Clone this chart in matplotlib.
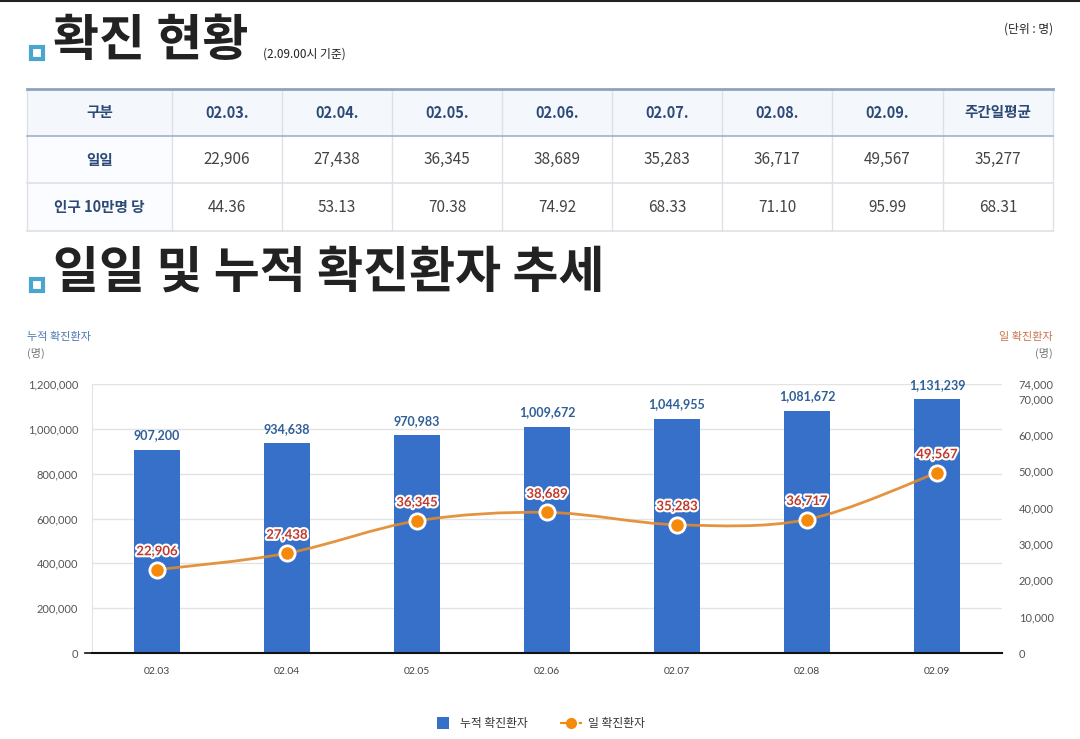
import numpy as np
import matplotlib.pyplot as plt
from matplotlib.path import Path
from matplotlib.patches import PathPatch, Rectangle
import matplotlib.patheffects as pe

plt.rcParams['font.family'] = ['Noto Sans CJK KR', 'DejaVu Sans']

# ---- data ----
dates = ['02.03', '02.04', '02.05', '02.06', '02.07', '02.08', '02.09']
daily = [22906, 27438, 36345, 38689, 35283, 36717, 49567]
per100k = [44.36, 53.13, 70.38, 74.92, 68.33, 71.10, 95.99]
cumulative = [907200, 934638, 970983, 1009672, 1044955, 1081672, 1131239]
weekly_avg_daily = 35277
weekly_avg_per100k = 68.31

header_labels = ['구분'] + [d + '.' for d in dates] + ['주간일평균']
row_labels = ['일일', '인구 10만명 당']

W, H = 1080, 739
fig = plt.figure(figsize=(W / 100, H / 100), dpi=100)

# full-figure overlay in pixel coordinates for the page layout
page = fig.add_axes([0, 0, 1, 1])
page.set_xlim(0, W)
page.set_ylim(H, 0)
page.axis('off')

NAVY = '#2d4a76'
GRAY = '#444444'

# top rule
page.plot([0, W], [1, 1], color='#222222', lw=1.5)


def section_icon(y):
    page.add_patch(Rectangle((31, y), 12, 12, facecolor='white',
                             edgecolor='#4ba6cf', lw=3))


# section 1 title
section_icon(47)
page.text(53, 42, '확진 현황', fontsize=36, fontweight='bold',
          color='#222222', va='center', ha='left')
page.text(263, 54, '(2.09.00시 기준)', fontsize=8.5, color='#222222',
          va='center', ha='left')
page.text(1053, 29, '(단위 : 명)', fontsize=8.5, color='#222222',
          va='center', ha='right')

# table
col_edges = [27, 172, 282, 392, 502, 612, 722, 832, 943, 1053]
row_edges = [89, 136, 183, 231]
page.add_patch(Rectangle((27, 89), 1026, 47, facecolor='#f4f8fd',
                         edgecolor='none'))
page.add_patch(Rectangle((27, 136), 145, 95, facecolor='#fafcff',
                         edgecolor='none'))
for x in col_edges:
    page.plot([x, x], [89, 231], color='#dde1e6', lw=1)
for y in row_edges[1:]:
    c = '#9fb1c9' if y == 136 else '#dde1e6'
    page.plot([27, 1053], [y, y], color=c, lw=1.2)
page.plot([27, 1053], [89, 89], color='#8fa2bf', lw=2)

rows = [header_labels,
        [row_labels[0]] + [f'{v:,}' for v in daily] + [f'{weekly_avg_daily:,}'],
        [row_labels[1]] + [f'{v:.2f}' for v in per100k] + [f'{weekly_avg_per100k:.2f}']]
for r, vals in enumerate(rows):
    yc = (row_edges[r] + row_edges[r + 1]) / 2
    for c, txt in enumerate(vals):
        xc = (col_edges[c] + col_edges[c + 1]) / 2
        bold = r == 0 or c == 0
        page.text(xc, yc, txt, ha='center', va='center',
                  fontsize=10.5 if bold else 11,
                  fontweight='bold' if bold else 'normal',
                  color=NAVY if bold else GRAY)

# section 2 title
section_icon(279)
page.text(53, 273, '일일 및 누적 확진환자 추세', fontsize=36, fontweight='bold',
          color='#222222', va='center', ha='left')

# axis titles
page.text(27, 337, '누적 확진환자', fontsize=8, color='#4a78b0',
          va='center', ha='left')
page.text(27, 353, '(명)', fontsize=8, color='#777777', va='center', ha='left')
page.text(1053, 337, '일 확진환자', fontsize=8, color='#c8734a',
          va='center', ha='right')
page.text(1053, 353, '(명)', fontsize=8, color='#777777', va='center',
          ha='right')

# ---- chart ----
x0, x1, ytop, ybot = 92, 1002, 384, 653
ax = fig.add_axes([x0 / W, (H - ybot) / H, (x1 - x0) / W, (ybot - ytop) / H])
ax2 = ax.twinx()

xpos = np.arange(len(dates)) + 0.5
BAR = '#3670c8'
ax.bar(xpos, cumulative, width=0.36, color=BAR, zorder=2)
ax.set_xlim(0, len(dates))
ax.set_ylim(0, 1200000)
ax.set_yticks(np.arange(0, 1200001, 200000))
ax.set_yticklabels([f'{v:,}' for v in range(0, 1200001, 200000)])
ax.grid(axis='y', color='#e3e3e3', lw=1, zorder=0)
ax.set_axisbelow(True)
ax.set_xticks(xpos)
ax.set_xticklabels(dates)
for s in ['top', 'right']:
    ax.spines[s].set_visible(False)
ax.spines['left'].set_color('#e3e3e3')
ax.spines['bottom'].set_color('#111111')
ax.spines['bottom'].set_linewidth(1.5)
ax.tick_params(axis='y', length=0, pad=10, labelsize=8, labelcolor='#555555')
ax.tick_params(axis='x', length=0, pad=10, labelsize=7.5, labelcolor='#444444')
for lab in ax.get_yticklabels() + ax.get_xticklabels():
    lab.set_family(['Lato', 'DejaVu Sans'])

for xp, v in zip(xpos, cumulative):
    ax.annotate(f'{v:,}', (xp, v), xytext=(0, 6), textcoords='offset points',
                ha='center', va='bottom', fontsize=9, fontweight='bold',
                color='#2f5f98', family=['Lato', 'DejaVu Sans'])

# right axis: smooth line
ax2.set_ylim(0, 74000)
rticks = list(range(0, 70001, 10000)) + [74000]
ax2.set_yticks(rticks)
ax2.set_yticklabels([f'{v:,}' for v in rticks])
ax2.tick_params(axis='y', length=0, pad=12, labelsize=8, labelcolor='#555555')
for lab in ax2.get_yticklabels():
    lab.set_family(['Lato', 'DejaVu Sans'])
for s in ['top', 'right', 'left', 'bottom']:
    ax2.spines[s].set_visible(False)

pts = np.column_stack([xpos, daily]).astype(float)
verts = [tuple(pts[0])]
codes = [Path.MOVETO]
n = len(pts)
for i in range(n - 1):
    p_prev = pts[i - 1] if i > 0 else pts[i]
    p_next2 = pts[i + 2] if i + 2 < n else pts[i + 1]
    c1 = pts[i] + (pts[i + 1] - p_prev) / 6
    c2 = pts[i + 1] - (p_next2 - pts[i]) / 6
    verts += [tuple(c1), tuple(c2), tuple(pts[i + 1])]
    codes += [Path.CURVE4] * 3
ax2.add_patch(PathPatch(Path(verts, codes), facecolor='none',
                        edgecolor='#e2892c', lw=2, alpha=0.9, zorder=3))
ax2.plot(xpos, daily, linestyle='none', marker='o', markersize=11,
         markerfacecolor='#f5890a', markeredgecolor='white',
         markeredgewidth=2, zorder=4)
for xp, v in zip(xpos, daily):
    ax2.annotate(f'{v:,}', (xp, v), xytext=(0, 9), textcoords='offset points',
                 ha='center', va='bottom', fontsize=9.5, fontweight='bold',
                 color='#c0392b', family=['Lato', 'DejaVu Sans'],
                 path_effects=[pe.withStroke(linewidth=3, foreground='white')],
                 zorder=5)

# small tick at zero on the left axis
page.plot([85, 92], [653, 653], color='#111111', lw=1.2)

# legend
page.add_patch(Rectangle((437, 717), 12, 12, facecolor=BAR, edgecolor='none'))
page.text(460, 723, '누적 확진환자', fontsize=8.5, color='#333333',
          va='center', ha='left')
page.plot([560, 582], [723, 723], color='#f5890a', lw=1.5, ls=(0, (3, 1.5)))
page.plot([571], [723], marker='o', markersize=7, color='#f5890a')
page.text(588, 723, '일 확진환자', fontsize=8.5, color='#333333',
          va='center', ha='left')

fig.savefig('out.png', dpi=100)
